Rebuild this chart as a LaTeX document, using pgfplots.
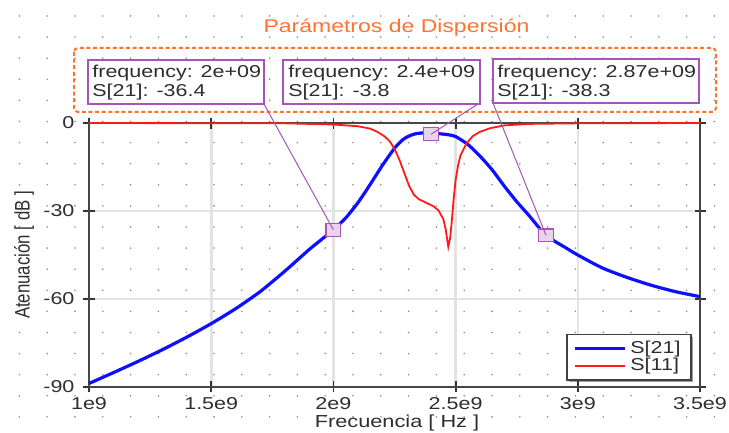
\documentclass[border=0pt]{standalone}
\usepackage{fontspec}
\setmainfont{Liberation Sans}
\newfontfamily\wf{Liberation Sans}[FakeStretch=1.25]
\usepackage{pgfplots}
\pgfplotsset{compat=1.18}
\pgfdeclarelayer{background}
\pgfsetlayers{background,main}
\definecolor{titleor}{RGB}{255,115,45}
\definecolor{annv}{RGB}{165,85,185}
\definecolor{txt}{RGB}{45,45,50}
\definecolor{s21}{RGB}{15,15,255}
\definecolor{s11}{RGB}{255,25,25}
\definecolor{dotc}{RGB}{140,140,140}

\pgfplotstableread{
f     s21
1.00 -88.8
1.10 -85.1
1.20 -81.3
1.30 -77.3
1.40 -73.0
1.50 -68.4
1.60 -63.3
1.70 -57.5
1.80 -50.6
1.90 -43.2
1.95 -39.8
2.00 -36.4
2.05 -32.4
2.10 -27.2
2.15 -21.0
2.20 -14.5
2.25 -8.6
2.28 -6.0
2.30 -4.8
2.33 -3.8
2.36 -3.4
2.40 -3.6
2.44 -3.7
2.47 -4.0
2.50 -4.6
2.55 -7.3
2.60 -11.3
2.65 -16.0
2.70 -21.6
2.75 -26.8
2.80 -31.5
2.87 -38.3
2.95 -42.5
3.00 -45.0
3.10 -49.4
3.20 -52.6
3.30 -55.3
3.40 -57.5
3.50 -59.2
}\tsub

\pgfplotstableread{
f     s11
1.00  0
1.80 -0.1
2.00 -0.5
2.10 -1.1
2.15 -1.9
2.18 -3.0
2.21 -4.6
2.23 -6.2
2.25 -8.8
2.27 -12.5
2.29 -17.0
2.31 -21.5
2.33 -24.5
2.35 -26.0
2.38 -27.2
2.41 -28.4
2.43 -29.8
2.45 -32.8
2.46 -36.5
2.47 -42.2
2.478 -39.0
2.485 -33.0
2.492 -26.0
2.50 -19.5
2.51 -14.5
2.52 -11.0
2.545 -6.9
2.57 -4.5
2.60 -3.0
2.64 -1.8
2.70 -0.8
2.80 -0.3
3.00 -0.1
3.50  0
}\tsoo

\begin{document}
\begin{tikzpicture}
\useasboundingbox (0,0) rectangle (364.5pt,216.5pt);
\begin{scope}[x=0.5pt,y=-0.5pt,shift={(0,216.5pt)}]
\foreach \k in {0,...,19}{
  \draw[dotc, line width=0.9pt, line cap=round, dash pattern=on 0pt off 13.9pt] (19.4,{16+21.1*\k}) -- (716,{16+21.1*\k});
}
\end{scope}

\begin{axis}[
  at={(44.5pt,23pt)}, anchor=south west,
  scale only axis, width=305.5pt, height=132pt,
  xmin=1, xmax=3.5, ymin=-90, ymax=0,
  xtick={1,1.5,2,2.5,3,3.5}, xticklabels={1e9,1.5e9,2e9,2.5e9,3e9,3.5e9},
  ytick={-90,-60,-30,0}, yticklabels={-90,-60,-30,0},
  ticklabel style={font=\wf\fontsize{8.6}{10}\selectfont, text=txt},
  xticklabel style={yshift=1pt},
  yticklabel style={xshift=-1pt},
  tick align=center, major tick length=5.5pt,
  tick style={gray!40!black, line width=0.9pt},
  axis line style={gray!55!black, line width=0.9pt},
  grid=major, major grid style={gray!22, line width=1.3pt},
  clip=false,
  legend style={name=leg, at={(rel axis cs:1,0)}, anchor=south east, xshift=-4.5pt, yshift=3.5pt,
    draw=none, fill=white,
    font=\wf\fontsize{8.6}{9}\selectfont, text=txt,
    nodes={inner ysep=1.5pt},
    inner xsep=3pt, inner ysep=1.5pt, row sep=-2.1pt},
  legend cell align=left,
  legend image code/.code={\draw[#1] (0pt,0pt) -- (25pt,0pt);},
]
\addplot[color=s21, line width=1.6pt, smooth, tension=0.4] table[x=f,y=s21] {\tsub};
\addlegendentry{S[21]}
\addplot[color=s11, line width=0.9pt] table[x=f,y=s11] {\tsoo};
\addlegendentry{S[11]}
\addplot[only marks, mark=square*, mark size=3.2pt, mark options={draw=annv, fill=annv!25, line width=0.6pt, xscale=1.15}, forget plot] coordinates {(2,-36.4) (2.4,-3.8) (2.87,-38.3)};
\coordinate (m1) at (axis cs:2,-36.4);
\coordinate (m2) at (axis cs:2.4,-3.8);
\coordinate (m3) at (axis cs:2.87,-38.3);
\end{axis}
\begin{pgfonlayer}{background}
\fill[gray!75] ([shift={(1.2pt,-1.2pt)}]leg.south west) rectangle ([shift={(1.2pt,-1.2pt)}]leg.north east);
\end{pgfonlayer}
\draw[gray!50!black, line width=0.7pt] (leg.south west) rectangle (leg.north east);

\begin{scope}[x=0.5pt,y=-0.5pt,shift={(0,216.5pt)}]
\node[anchor=base, text=titleor, font=\wf\fontsize{9.2}{11}\selectfont, inner sep=0pt] at (396.5,33) {Parámetros de Dispersión};
\draw[titleor, line width=1pt, dash pattern=on 2pt off 1.3pt, rounded corners=2pt] (74,48) rectangle (716,112);
\draw[annv, line width=0.5pt] (264,104) -- (m1);
\draw[annv, line width=0.5pt] (478,104) -- (m2);
\draw[annv, line width=0.5pt] (493,103) -- (m3);
\draw[annv, line width=0.8pt, fill=white] (88,60) rectangle (264,104);
\draw[annv, line width=0.8pt, fill=white] (283,60) rectangle (480,104);
\draw[annv, line width=0.8pt, fill=white] (493,59) rectangle (699,103);
\begin{scope}[every node/.style={anchor=base west, inner sep=0pt, text=txt, font=\wf\fontsize{8.6}{10}\selectfont}]
\node at (92,78) {frequency: 2e+09};
\node at (92,97) {S[21]: -36.4};
\node at (288,78) {frequency: 2.4e+09};
\node at (288,97) {S[21]: -3.8};
\node at (497,78) {frequency: 2.87e+09};
\node at (497,97) {S[21]: -38.3};
\end{scope}
\node[anchor=base, text=txt, font=\wf\fontsize{8.7}{10}\selectfont, inner sep=0pt] at (397,428) {Frecuencia [ Hz ]};
\node[xscale=1.25, rotate=90, text=txt, font=\fontsize{8.4}{10}\selectfont, inner sep=0pt] at (24,255) {Atenuación [ dB ]};
\end{scope}
\end{tikzpicture}
\end{document}
